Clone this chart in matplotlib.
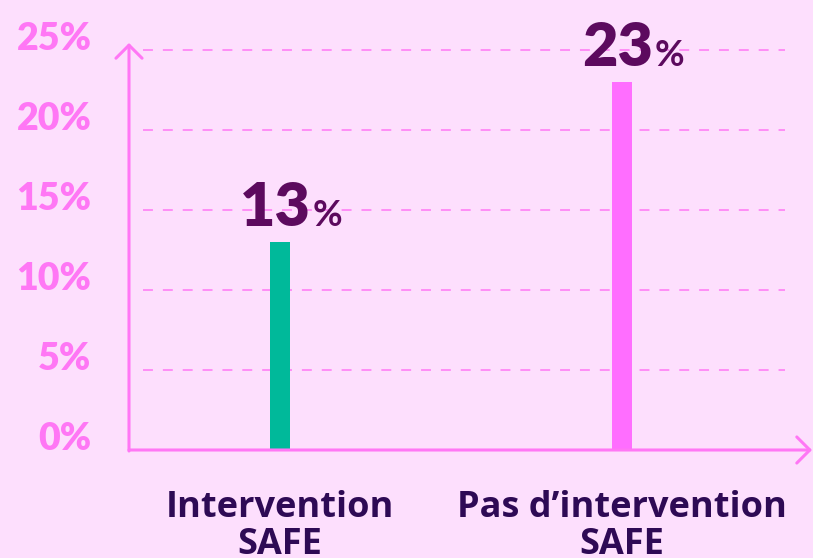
import matplotlib
matplotlib.use("Agg")
import matplotlib.pyplot as plt

# data
categories = ["Intervention\nSAFE", "Pas d\u2019intervention\nSAFE"]
values = [13, 23]
bar_colors = ["#00B99A", "#FF6EFF"]
yticks = [0, 5, 10, 15, 20, 25]
ytick_labels = ["0%", "5%", "10%", "15%", "20%", "25%"]

bg = "#FDDFFD"
pink = "#FF77F5"
num_color = "#5C0A5E"
cat_color = "#2E0A55"

W, H, dpi = 813, 558, 100
fig = plt.figure(figsize=(W / dpi, H / dpi), dpi=dpi, facecolor=bg)

# axes box in pixels: y axis at x=129, x axis at y=450
left, right, bottom, top = 129, 800, 450, 45
ax = fig.add_axes([left / W, (H - bottom) / H, (right - left) / W, (bottom - top) / H])
ax.set_facecolor(bg)

px_per_cat = 342.0
x0 = -151 / px_per_cat
ax.set_xlim(x0, x0 + (right - left) / px_per_cat)
ax.set_ylim(0, (bottom - top) / 16.0)

xs = list(range(len(values)))
ax.bar(xs, values, width=20 / px_per_cat, color=bar_colors, zorder=3)

# dashed grid
for t in yticks[1:]:
    ax.axhline(t, xmin=14 / (right - left), xmax=656 / (right - left),
               color=pink, lw=1.1, linestyle=(0, (6.5, 6.5)), zorder=1)

for s in ax.spines.values():
    s.set_visible(False)

ax.set_yticks(yticks)
ax.set_yticklabels(ytick_labels, fontsize=27, fontweight="heavy", family="Lato", color=pink)
ax.tick_params(axis="y", length=0, pad=27)
plt.setp(ax.get_yticklabels(), va="baseline")

ax.set_xticks(xs)
ax.set_xticklabels(categories, fontsize=26, fontweight="bold", family="Open Sans",
                   color=cat_color, linespacing=1.02)
ax.tick_params(axis="x", length=0, pad=29)

# value labels
for x, v in zip(xs, values):
    ax.annotate(str(v), xy=(x, v), xytext=(31, 16), textcoords="offset pixels",
                ha="right", va="baseline", fontsize=44, fontweight="heavy",
                family="Lato", color=num_color)
    ax.annotate("%", xy=(x, v), xytext=(33, 16), textcoords="offset pixels",
                ha="left", va="baseline", fontsize=26, fontweight="bold",
                family="Lato", color=num_color)

# axis arrows
arrow = dict(arrowstyle="->,head_length=0.47,head_width=0.47", lw=2.2, color=pink,
             shrinkA=0, shrinkB=0, mutation_scale=20)
ax.annotate("", xy=(812 / W, (H - bottom) / H), xytext=(left / W, (H - bottom) / H),
            xycoords="figure fraction", textcoords="figure fraction", arrowprops=arrow)
ax.annotate("", xy=(left / W, (H - 43) / H), xytext=(left / W, (H - bottom - 1) / H),
            xycoords="figure fraction", textcoords="figure fraction", arrowprops=arrow)

fig.savefig("out.png", dpi=dpi, facecolor=bg)
